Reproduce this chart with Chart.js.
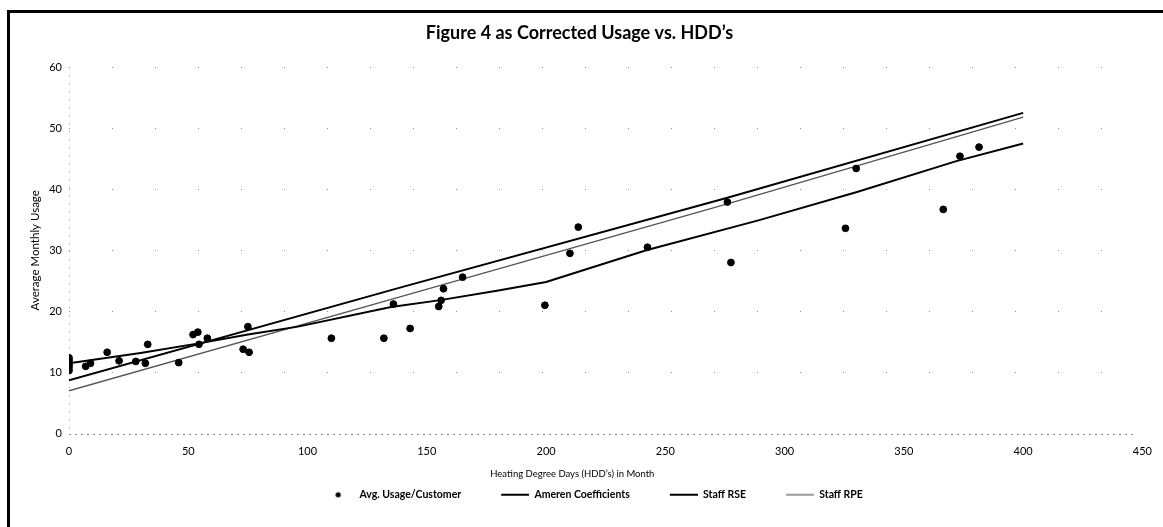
<!DOCTYPE html>
<html>
<head>
<meta charset="utf-8">
<script src="https://cdn.jsdelivr.net/npm/chart.js@4.4.0/dist/chart.umd.min.js"></script>
<style>
  html, body { margin: 0; padding: 0; background: #fff; }
  #frame { position: absolute; left: 7px; top: 10px; width: 1153px; height: 514px;
           border-left: 3px solid #000; border-top: 3px solid #000; }
  #wrap { position: absolute; left: 0; top: 0; width: 1153px; height: 514px; }
</style>
</head>
<body>
<div id="frame"><div id="wrap"><canvas id="c" width="1153" height="514"></canvas></div></div>
<script>
// ---- data ----
const hdd   = [0, 0, 0, 0, 0, 0, 7, 9, 16, 21, 28, 32, 33, 46, 52, 54, 54.5, 58, 73, 75, 75.5,
               110, 132, 136, 143, 155, 156, 157, 165, 199.5, 210, 213.5, 242.5, 276, 277.5,
               325.5, 330, 366.5, 373.5, 381.5];
const usage = [10.3, 10.8, 11.2, 11.6, 12.0, 12.4, 11.0, 11.5, 13.3, 11.9, 11.8, 11.5, 14.6, 11.6,
               16.2, 16.6, 14.6, 15.6, 13.8, 17.5, 13.3, 15.6, 15.6, 21.2, 17.2, 20.8, 21.8, 23.7,
               25.6, 21.0, 29.5, 33.8, 30.5, 37.9, 28.0, 33.6, 43.4, 36.7, 45.4, 46.9];

const amerenX = [0, 30, 55, 75, 96, 135, 155, 180, 200, 242, 289, 330, 372, 400];
const amerenY = [11.5, 13.2, 14.8, 16.2, 17.5, 20.7, 21.8, 23.4, 24.8, 30.0, 34.9, 39.5, 44.6, 47.5];

const rseX = [0, 138, 276, 400];
const rseY = [8.7, 23.8, 38.6, 52.5];

const rpeX = [0, 138, 276, 400];
const rpeY = [7.0, 22.3, 37.6, 51.8];

const xTicks = [0, 50, 100, 150, 200, 250, 300, 350, 400, 450];
const yTicks = [0, 10, 20, 30, 40, 50, 60];

const seriesNames = ['Avg. Usage/Customer', 'Ameren Coefficients', 'Staff RSE', 'Staff RPE'];
const titleText = 'Figure 4 as Corrected Usage vs. HDD\u2019s';
const xTitle = 'Heating Degree Days (HDD\u2019s) in Month';
const yTitle = 'Average Monthly Usage';

// ---- helpers ----
const pairs = (xs, ys) => xs.map((x, i) => ({ x: x, y: ys[i] }));

function legendIcon(kind, color, width) {
  const c = document.createElement('canvas');
  c.width = 58; c.height = 10;
  const g = c.getContext('2d');
  if (kind === 'dot') {
    g.fillStyle = '#000';
    g.beginPath(); g.arc(42, 5, 2.6, 0, Math.PI * 2); g.fill();
  } else {
    g.strokeStyle = color; g.lineWidth = width;
    g.beginPath(); g.moveTo(30, 5); g.lineTo(58, 5); g.stroke();
  }
  return c;
}
const icons = [legendIcon('dot'), legendIcon('line', '#000', 2), legendIcon('line', '#000', 2), legendIcon('line', '#666', 1.3)];

const FONT = 'Lato, "Open Sans", sans-serif';

const axisPlugin = {
  id: 'dottedAxes',
  beforeDatasetsDraw: (chart) => {
    const ctx = chart.ctx;
    const xs = chart.scales.x, ys = chart.scales.y;
    ctx.save();
    ctx.lineWidth = 1;
    ctx.strokeStyle = '#8a8a8a';
    ctx.setLineDash([2, 4]);
    ctx.beginPath();
    ctx.moveTo(xs.left, Math.round(ys.getPixelForValue(0)) + 0.5);
    ctx.lineTo(xs.right - 8, Math.round(ys.getPixelForValue(0)) + 0.5);
    ctx.stroke();
    ctx.strokeStyle = '#9a9a9a';
    ctx.setLineDash([1, 7]);
    ctx.beginPath();
    ctx.moveTo(Math.round(xs.getPixelForValue(0)) + 0.5, ys.top);
    ctx.lineTo(Math.round(xs.getPixelForValue(0)) + 0.5, ys.bottom);
    ctx.stroke();
    ctx.restore();
  },
  afterDraw: (chart) => {
    const ctx = chart.ctx;
    const xs = chart.scales.x;
    ctx.save();
    ctx.font = '9.5px ' + FONT;
    ctx.fillStyle = '#000';
    ctx.textAlign = 'center';
    ctx.textBaseline = 'middle';
    ctx.fillText(xTitle, xs.getPixelForValue(211), xs.bottom - 6);
    ctx.restore();
  }
};

new Chart(document.getElementById('c'), {
  type: 'scatter',
  data: {
    datasets: [
      { label: seriesNames[0], data: pairs(hdd, usage), backgroundColor: '#000', borderColor: '#000',
        pointRadius: 3.4, pointHoverRadius: 3.4, order: 0 },
      { label: seriesNames[1], data: pairs(amerenX, amerenY), showLine: true, borderColor: '#000',
        borderWidth: 2, pointRadius: 0, tension: 0, order: 1 },
      { label: seriesNames[2], data: pairs(rseX, rseY), showLine: true, borderColor: '#000',
        borderWidth: 2, pointRadius: 0, tension: 0, order: 2 },
      { label: seriesNames[3], data: pairs(rpeX, rpeY), showLine: true, borderColor: '#555',
        borderWidth: 1.3, pointRadius: 0, tension: 0, order: 3 }
    ]
  },
  options: {
    responsive: false,
    animation: false,
    layout: { padding: { left: 0, right: 14, top: 0, bottom: 17 } },
    plugins: {
      tooltip: { enabled: false },
      title: {
        display: true, text: titleText, color: '#000',
        font: { family: FONT, size: 18, weight: 'bold' },
        padding: { top: 9.5, bottom: 23 }
      },
      legend: {
        position: 'bottom',
        labels: {
          usePointStyle: true, pointStyleWidth: 58, boxHeight: 10,
          color: '#000', padding: 10,
          font: { family: FONT, size: 10.5, weight: 'bold' },
          generateLabels: (chart) => chart.data.datasets.map((ds, i) => ({
            text: ds.label, pointStyle: icons[i], fillStyle: '#000', strokeStyle: '#000',
            lineWidth: 0, hidden: false, datasetIndex: i, fontColor: '#000'
          }))
        }
      }
    },
    scales: {
      x: {
        type: 'linear', min: 0, max: 450,
        afterBuildTicks: (s) => { s.ticks = xTicks.map(v => ({ value: v })); },
        afterFit: (s) => { s.height = 46; },
        ticks: { color: '#000', padding: 11, font: { family: FONT, size: 11 } },
        grid: { display: false, drawTicks: false },
        border: { display: false },
        title: { display: false }
      },
      y: {
        type: 'linear', min: 0, max: 60,
        afterBuildTicks: (s) => { s.ticks = yTicks.map(v => ({ value: v })); },
        afterFit: (s) => { s.width = 59; },
        ticks: { color: '#000', padding: 7, font: { family: FONT, size: 11 } },
        grid: { display: true, drawTicks: false, lineWidth: 1,
                color: (c) => (c.tick && c.tick.value === 0) ? 'rgba(0,0,0,0)' : 'rgba(0,0,0,0.45)' },
        border: { display: false, dash: [1, 42] },
        title: { display: true, text: yTitle, color: '#000', padding: { top: 18, bottom: 0 },
                 font: { family: FONT, size: 11.5 } }
      }
    }
  },
  plugins: [axisPlugin]
});
</script>
</body>
</html>
